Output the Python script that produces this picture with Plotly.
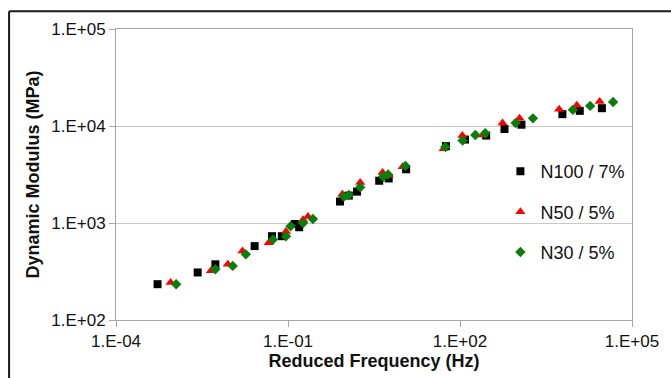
import plotly.graph_objects as go

# N100 / 7%
n100_freq = [5.30e-4, 2.66e-3, 5.41e-3, 0.0262, 0.0526, 0.078, 0.1315, 0.1567, 0.807, 1.15, 1.60,
             3.90, 5.71, 11.5, 56.9, 122, 286, 597, 1180, 6110, 12270, 29860]
n100_mod = [234, 309, 375, 578, 731, 731, 977, 904, 1665, 1918, 2105,
            2727, 2879, 3581, 6205, 7250, 7967, 9316, 10310, 13250, 14330, 15260]

# N50 / 5%
n50_freq = [8.97e-4, 4.52e-3, 8.93e-3, 0.0161, 0.0461, 0.0922, 0.183, 0.223, 0.887, 1.82,
            4.46, 5.71, 10.0, 51.9, 110, 251, 552, 1091, 5360, 10890, 27300]
n50_mod = [244, 321, 375, 514, 625, 815, 1081, 1170, 1977, 2620,
           3316, 3111, 3790, 5826, 7967, 8090, 10730, 11990, 14900, 16380, 17870]

# N30 / 5%
n30_freq = [1.12e-3, 5.41e-3, 0.01086, 0.01837, 0.0547, 0.0922, 0.111, 0.183, 0.272, 0.944, 1.15,
            1.82, 4.56, 5.56, 11.2, 55.5, 111, 185, 275, 933, 1871, 9310, 18620, 46800]
n30_mod = [234, 334, 361, 475, 676, 731, 925, 1000, 1099, 1872, 1944,
           2330, 2997, 3162, 3880, 6067, 7080, 8090, 8430, 10730, 11990, 14670, 16110, 17700]

x_tickvals = [1e-4, 1e-1, 1e2, 1e5]
x_ticktext = ["1.E-04", "1.E-01", "1.E+02", "1.E+05"]
y_tickvals = [1e2, 1e3, 1e4, 1e5]
y_ticktext = ["1.E+02", "1.E+03", "1.E+04", "1.E+05"]

FONT = "Liberation Sans, Arial, sans-serif"

fig = go.Figure()
fig.add_trace(go.Scatter(x=n100_freq, y=n100_mod, mode="markers", name="N100 / 7%",
                         legendgroup="a",
                         marker=dict(symbol="square", size=8, color="#000000")))
fig.add_trace(go.Scatter(x=n50_freq, y=n50_mod, mode="markers", name="N50 / 5%",
                         legendgroup="b",
                         marker=dict(symbol="triangle-up", size=9, color="#ff0000")))
fig.add_trace(go.Scatter(x=n30_freq, y=n30_mod, mode="markers", name="N30 / 5%",
                         legendgroup="c",
                         marker=dict(symbol="diamond", size=8, color="#0a7d0a")))

fig.update_layout(
    width=671, height=378,
    margin=dict(l=116, r=29, t=29, b=55),
    paper_bgcolor="white", plot_bgcolor="white",
    font=dict(family=FONT, size=17, color="#111111"),
    xaxis=dict(type="log", range=[-4, 5], tickvals=x_tickvals, ticktext=x_ticktext,
               showgrid=False, showline=True, mirror=True, linecolor="#a6a6a6", linewidth=1,
               ticks="outside", ticklen=6, tickcolor="#a6a6a6", zeroline=False,
               title=dict(text="<b>Reduced Frequency (Hz)</b>", font=dict(size=18), standoff=2)),
    yaxis=dict(type="log", range=[2, 5], tickvals=y_tickvals, ticktext=y_ticktext,
               showgrid=True, gridcolor="#c8c8c8", gridwidth=1,
               showline=True, mirror=True, linecolor="#a6a6a6", linewidth=1,
               ticks="outside", ticklen=6, tickcolor="#a6a6a6", zeroline=False,
               title=dict(text="<b>Dynamic Modulus (MPa)</b>", font=dict(size=18), standoff=6)),
    legend=dict(x=0.745, y=0.371, xanchor="left", yanchor="middle",
                bgcolor="rgba(0,0,0,0)", font=dict(size=18, color="#111111"),
                tracegroupgap=14, traceorder="grouped", itemsizing="trace"),
    shapes=[
        dict(type="rect", xref="paper", yref="paper", x0=0.791, x1=0.995, y0=0.21, y1=0.55,
             fillcolor="white", line=dict(width=0), layer="below"),
        dict(type="line", xref="paper", yref="paper", x0=-0.2072, x1=1.2, y0=1.0612, y1=1.0612,
             line=dict(color="#1a1a1a", width=2)),
        dict(type="line", xref="paper", yref="paper", x0=-0.2072, x1=-0.2072, y0=1.0612, y1=-0.3,
             line=dict(color="#1a1a1a", width=2)),
    ],
)

fig.write_html("out.html")
